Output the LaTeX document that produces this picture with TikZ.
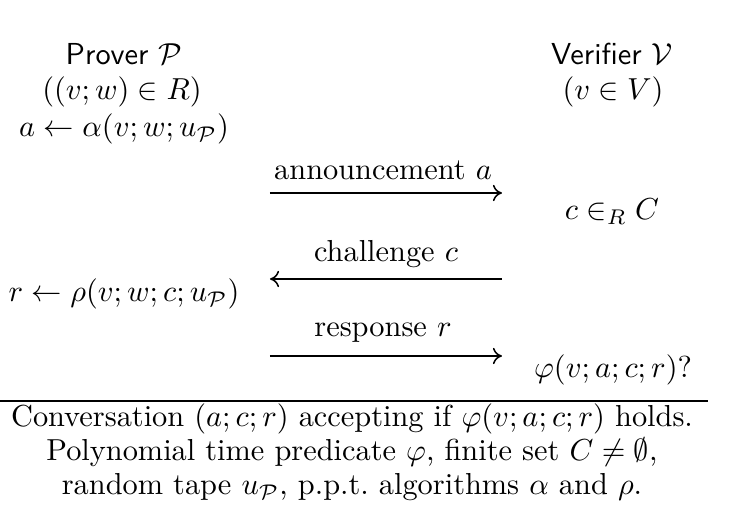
\documentclass[tikz,border=0pt]{standalone}
\usepackage{amsmath,amssymb}
\usetikzlibrary{arrows.meta}
\begin{document}
\begin{tikzpicture}[x=0.32938pt,y=-0.32938pt,
  bl/.style={inner sep=0pt,anchor=base},
  msg/.style={-{Computer Modern Rightarrow[length=3pt,width=5.4pt]},line width=0.5pt}]
\useasboundingbox (0,0) rectangle (730,522);
\node[bl] (P) at (124,65) {\textsf{Prover} $\mathcal{P}$};
\node[bl] (PR) at (122,100) {$((v;w)\in R)$};
\node[bl] (V) at (612,65) {\textsf{Verifier} $\mathcal{V}$};
\node[bl] (VR) at (613,100) {$(v\in V)$};
\node[bl] (A) at (124,137) {$a\leftarrow\alpha(v;w;u_{\mathcal{P}})$};
\node[bl] (C) at (612,220) {$c\in_R C$};
\node[bl] (R) at (124,302) {$r\leftarrow\rho(v;w;c;u_{\mathcal{P}})$};
\node[bl] (PHI) at (613,378) {$\varphi(v;a;c;r)?$};
\coordinate (a1) at (270,193); \coordinate (a2) at (502,193);
\coordinate (c1) at (270,279); \coordinate (c2) at (502,279);
\coordinate (r1) at (270,356); \coordinate (r2) at (502,356);
\draw[msg] (a1) -- (a2);
\draw[msg] (c2) -- (c1);
\draw[msg] (r1) -- (r2);
\node[bl] (la) at (383,180) {announcement $a$};
\node[bl] (lc) at (386,262) {challenge $c$};
\node[bl] (lr) at (383,337) {response $r$};
\coordinate (h1) at (0,401); \coordinate (h2) at (708,401);
\draw[line width=0.5pt] (h1) -- (h2);
\node[bl] (N1) at (352,427) {Conversation $(a;c;r)$ accepting if $\varphi(v;a;c;r)$ holds.};
\node[bl] (N2) at (352,461) {Polynomial time predicate $\varphi$, finite set $C\neq\emptyset$,};
\node[bl] (N3) at (352,495) {random tape $u_{\mathcal{P}}$, p.p.t.\ algorithms $\alpha$ and $\rho$.};
\end{tikzpicture}
\end{document}
